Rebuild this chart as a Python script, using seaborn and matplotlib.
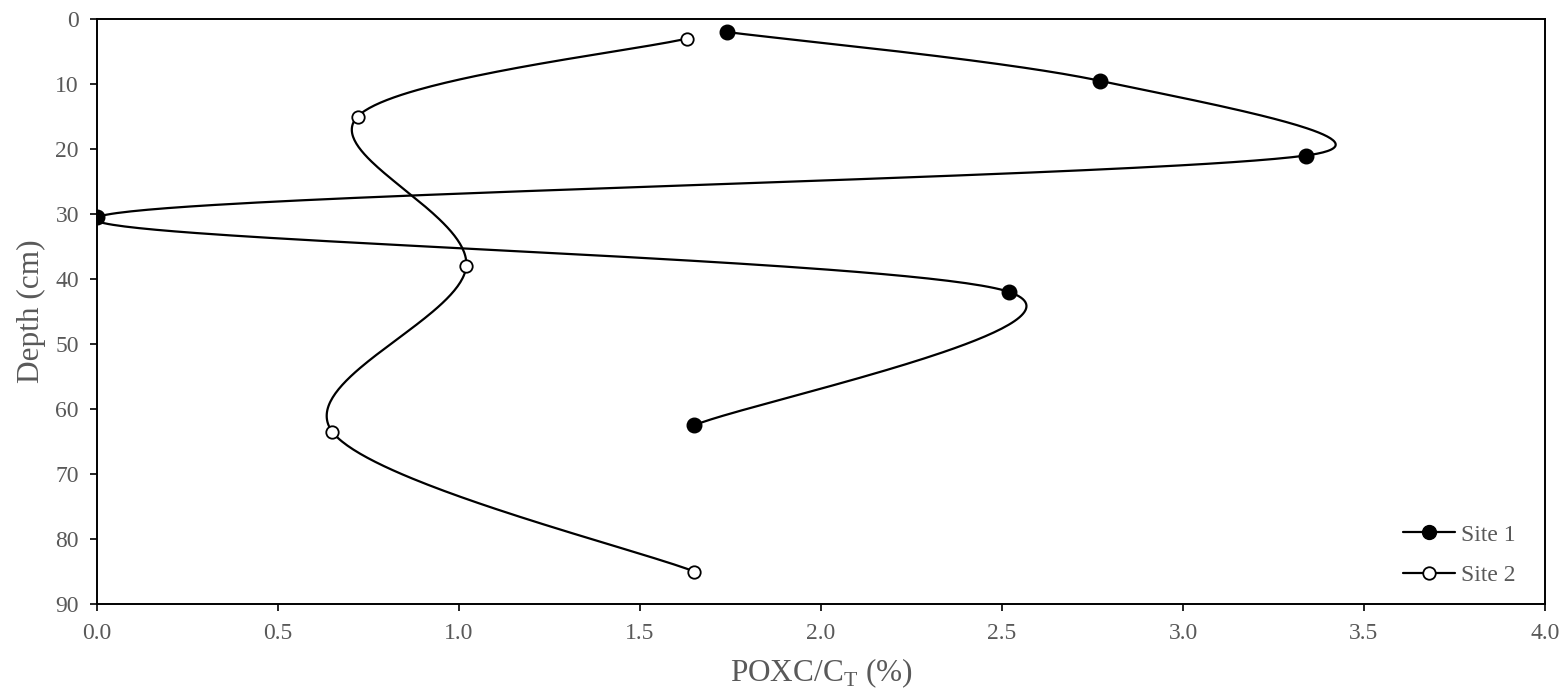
import matplotlib
matplotlib.use("Agg")
import matplotlib.pyplot as plt
import numpy as np
import pandas as pd
import seaborn as sns
from matplotlib.lines import Line2D

# Values
site1_poxc = [1.74, 2.77, 3.34, 0.0, 2.52, 1.65]
site1_depth = [2.0, 9.5, 21.0, 30.5, 42.0, 62.5]
site2_poxc = [1.63, 0.72, 1.02, 0.65, 1.65]
site2_depth = [3.0, 15.0, 38.0, 63.5, 85.0]

x_ticks = [0.0, 0.5, 1.0, 1.5, 2.0, 2.5, 3.0, 3.5, 4.0]
y_ticks = [0, 10, 20, 30, 40, 50, 60, 70, 80, 90]
series_labels = ["Site 1", "Site 2"]

TEXT_GREY = "#595959"


def excel_smooth(ax, xs, ys, n=80):
    """Excel-style smoothed line: Bezier segments built in display space."""
    pts = ax.transData.transform(np.column_stack([xs, ys]))
    m = len(pts)
    out = [pts[0]]
    t = np.linspace(0, 1, n)[1:, None]
    for i in range(m - 1):
        p0 = pts[max(i - 1, 0)]
        p1 = pts[i]
        p2 = pts[i + 1]
        p3 = pts[min(i + 2, m - 1)]
        half = np.linalg.norm(p2 - p1) / 2
        d1 = (p2 - p0) / 6
        d2 = (p3 - p1) / 6
        # Excel shortens the tangent when it is longer than half the segment
        if np.linalg.norm(d1) > half:
            d1 = d1 * half / np.linalg.norm(d1)
        if np.linalg.norm(d2) > half:
            d2 = d2 * half / np.linalg.norm(d2)
        c1 = p1 + d1
        c2 = p2 - d2
        b = ((1 - t) ** 3) * p1 + 3 * ((1 - t) ** 2) * t * c1 \
            + 3 * (1 - t) * (t ** 2) * c2 + (t ** 3) * p2
        out.extend(b)
    return ax.transData.inverted().transform(np.array(out))


sns.set_theme(style="white")
plt.rcParams["font.family"] = ["Liberation Serif", "DejaVu Serif"]
plt.rcParams["mathtext.fontset"] = "custom"
plt.rcParams["mathtext.rm"] = "Liberation Serif"

fig = plt.figure(figsize=(15.68, 6.95), dpi=100)
ax = fig.add_axes([97 / 1568, 1 - 604 / 695, 1448 / 1568, 585 / 695])

ax.set_xlim(0, 4.0)
ax.set_ylim(90, 0)

for xs, ys in [(site1_poxc, site1_depth), (site2_poxc, site2_depth)]:
    curve = excel_smooth(ax, xs, ys)
    df = pd.DataFrame({"x": curve[:, 0], "y": curve[:, 1]})
    sns.lineplot(data=df, x="x", y="y", sort=False, estimator=None,
                 color="black", linewidth=1.6, ax=ax)

sns.scatterplot(x=site1_poxc, y=site1_depth, ax=ax, color="black",
                s=110, marker="o", edgecolor="black", linewidth=1, zorder=3)
sns.scatterplot(x=site2_poxc, y=site2_depth, ax=ax, facecolor="white",
                s=80, marker="o", edgecolor="black", linewidth=1.3, zorder=3)

ax.set_xticks(x_ticks)
ax.set_xticklabels([f"{v:.1f}" for v in x_ticks])
ax.set_yticks(y_ticks)
ax.set_yticklabels([str(v) for v in y_ticks])

for side in ["left", "right", "top", "bottom"]:
    ax.spines[side].set_visible(True)
    ax.spines[side].set_color("black")
    ax.spines[side].set_linewidth(1.4)

ax.tick_params(axis="both", which="major", direction="out", length=5,
               width=1.2, color="black", labelsize=17, labelcolor=TEXT_GREY,
               left=True, bottom=True, top=False, right=False)
ax.tick_params(axis="y", pad=8)
ax.tick_params(axis="x", pad=8.5)

ax.set_xlabel(r"POXC/C$_\mathregular{T}$ (%)", fontsize=22.5, color=TEXT_GREY,
              labelpad=9)
ax.set_ylabel("Depth (cm)", fontsize=22.5, color=TEXT_GREY, labelpad=7)

handles = [
    Line2D([], [], color="black", linewidth=1.6, marker="o", markersize=10,
           markerfacecolor="black", markeredgecolor="black"),
    Line2D([], [], color="black", linewidth=1.6, marker="o", markersize=9,
           markerfacecolor="white", markeredgecolor="black", markeredgewidth=1.3),
]
leg = ax.legend(handles, series_labels, loc="upper left",
                bbox_to_anchor=(1403 / 1568, 1 - 524 / 695),
                bbox_transform=fig.transFigure, frameon=False, fontsize=17,
                handlelength=2.2, handletextpad=0.25, labelspacing=0.8,
                borderpad=0, borderaxespad=0)
for txt in leg.get_texts():
    txt.set_color(TEXT_GREY)

fig.savefig("out.png", dpi=100)
